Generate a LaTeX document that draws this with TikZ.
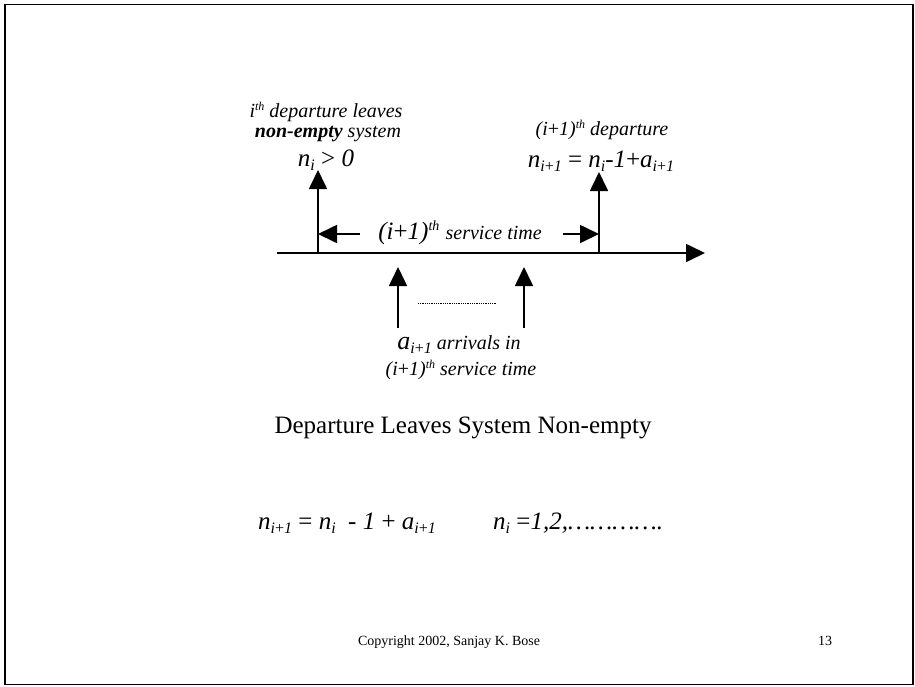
\documentclass[tikz,border=0pt]{standalone}
\usepackage{fontspec}
\setmainfont{Liberation Serif}
\usetikzlibrary{arrows.meta}
\newcommand{\sbB}[1]{\raisebox{-4.5pt}{\fontsize{16}{16}\selectfont #1}}
\newcommand{\spL}[1]{\raisebox{7pt}{\fontsize{12}{12}\selectfont #1}}
\newcommand{\spB}[1]{\raisebox{9pt}{\fontsize{14}{14}\selectfont #1}}
\newcommand{\pl}{\upshape+\itshape}
\begin{document}
\begin{tikzpicture}[x=1pt,y=-1pt,
  tip/.style={-{Triangle[length=19pt,width=18pt]}, line width=1.7pt},
  lbl/.style={inner sep=0pt, anchor=base, font=\fontsize{20}{24}\selectfont\itshape},
  big/.style={inner sep=0pt, anchor=base, font=\fontsize{25}{30}\selectfont\itshape},
  plain/.style={inner sep=0pt, anchor=base, font=\fontsize{25}{30}\selectfont},
  foot/.style={inner sep=0pt, anchor=base, font=\fontsize{14}{16}\selectfont}]
\useasboundingbox (0,0) rectangle (915,686);
\draw[line width=1.2pt] (5,4.5) rectangle (913,684.5);
% axis
\coordinate (a0) at (277,253);
\coordinate (a1) at (705,253);
\draw[tip] (a0) -- (a1);
% departures
\coordinate (d1b) at (318,253);
\coordinate (d1t) at (318,170);
\coordinate (d2b) at (599,253);
\coordinate (d2t) at (599,172);
\draw[tip] (d1b) -- (d1t);
\draw[tip] (d2b) -- (d2t);
% service time
\node[big] (st) at (460,239) {(i\pl 1)\spB{th} \fontsize{20}{24}\selectfont service time};
\coordinate (s1) at (360,234);
\coordinate (s1t) at (318,234);
\coordinate (s2) at (563,234);
\coordinate (s2t) at (599,234);
\draw[tip] (s1) -- (s1t);
\draw[tip] (s2) -- (s2t);
% arrivals
\coordinate (r1b) at (398,328);
\coordinate (r1t) at (398,267);
\coordinate (r2b) at (524,328);
\coordinate (r2t) at (524,267);
\draw[tip] (r1b) -- (r1t);
\draw[tip] (r2b) -- (r2t);
\coordinate (dl) at (418,303);
\coordinate (dr) at (497,303);
\draw[line width=0.6pt, dash pattern=on 0.7pt off 1.1pt] (dl) -- (dr);
\node[lbl] (arr1) at (459,349) {{\fontsize{26}{30}\selectfont a}\sbB{i\pl 1} arrivals in};
\node[lbl] (arr2) at (461,375) {(i\pl 1)\spL{th} service time};
% top-left
\node[lbl] (t1) at (326,117) {i\spL{th} departure leaves};
\node[lbl] (t2) at (328,137) {\textbf{non-empty} system};
\node[big] (t3) at (326,166) {n\sbB{i} \upshape> \itshape 0};
% top-right
\node[lbl] (u1) at (602,135) {(i\pl 1)\spL{th} departure};
\node[big] (u2) at (601,167) {n\sbB{i\pl 1} \upshape= \itshape n\sbB{i}-1\pl a\sbB{i\pl 1}};
% title
\node[plain] (title) at (463,433) {Departure Leaves System Non-empty};
% equation
\node[big, anchor=base west] (eq1) at (258,529) {n\sbB{i\pl 1} \upshape= \itshape n\sbB{i}\ \ - 1 \pl\ a\sbB{i\pl 1}};
\node[big, anchor=base west] (eq2) at (493,529) {n\sbB{i} \upshape=\itshape 1,2,\dots\dots\dots\dots.};
% footer
\node[foot] (copy) at (449,645) {Copyright 2002, Sanjay K. Bose};
\node[foot] (num) at (825,645) {13};
\end{tikzpicture}
\end{document}
